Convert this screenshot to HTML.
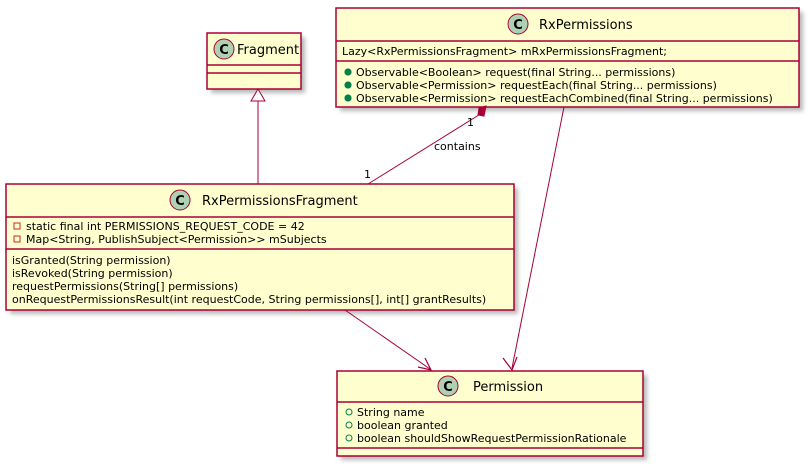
<!DOCTYPE html>
<html><head><meta charset="utf-8"><style>
html,body{margin:0;padding:0;background:#fff;}
svg{display:block;}
text{font-family:"DejaVu Sans","Liberation Sans",sans-serif;fill:#000;}
.m{font-size:11px;}
.t{font-size:13px;}
</style></head><body>
<svg width="808" height="466" viewBox="0 0 808 466" xmlns="http://www.w3.org/2000/svg">
<defs>
<filter id="sh" x="-5%" y="-5%" width="115%" height="125%"><feGaussianBlur stdDeviation="2"/></filter>
</defs>
<!-- shadows -->
<g fill="#888" opacity="0.6" filter="url(#sh)">
<rect x="211" y="37" width="94" height="56"/>
<rect x="340" y="12" width="463" height="99"/>
<rect x="10" y="188" width="508" height="126"/>
<rect x="341" y="375" width="306" height="85"/>
</g>
<g fill="#FEFECE" stroke="#A80036" stroke-width="1.5">
<rect x="207" y="33" width="94" height="56"/>
<rect x="336" y="8" width="463" height="99"/>
<rect x="6" y="184" width="508" height="126"/>
<rect x="337" y="371" width="306" height="85"/>
</g>
<g stroke="#A80036" stroke-width="1.5">
<line x1="207" y1="65" x2="301" y2="65"/><line x1="207" y1="73" x2="301" y2="73"/>
<line x1="336" y1="41" x2="799" y2="41"/><line x1="336" y1="61" x2="799" y2="61"/>
<line x1="6" y1="217" x2="514" y2="217"/><line x1="6" y1="249" x2="514" y2="249"/>
<line x1="337" y1="402" x2="643" y2="402"/><line x1="337" y1="448" x2="643" y2="448"/>
</g>
<!-- C icons -->
<g fill="#ADD1B2" stroke="#A80036" stroke-width="1">
<circle cx="224" cy="49" r="10"/>
<circle cx="518" cy="24" r="10"/>
<circle cx="180" cy="200" r="10"/>
<circle cx="448" cy="386" r="10"/>
</g>
<g font-weight="bold" font-size="13" text-anchor="middle">
<text x="224" y="54">C</text><text x="518" y="29">C</text><text x="180" y="205">C</text><text x="448" y="391">C</text>
</g>
<text class="t" x="237" y="54">Fragment</text>
<text class="t" x="539" y="29">RxPermissions</text>
<text class="t" x="202" y="205">RxPermissionsFragment</text>
<text class="t" x="473" y="391">Permission</text>
<text class="m" x="342" y="55">Lazy&lt;RxPermissionsFragment&gt; mRxPermissionsFragment;</text>
<g fill="none" stroke="#038048" stroke-width="1">
<circle cx="348" cy="72" r="3"/><circle cx="348" cy="85" r="3"/><circle cx="348" cy="98" r="3"/>
<circle cx="349" cy="412" r="3"/><circle cx="349" cy="425" r="3"/><circle cx="349" cy="438" r="3"/>
</g>
<g fill="#038048" stroke="#038048"><circle cx="348" cy="72" r="3"/><circle cx="348" cy="85" r="3"/><circle cx="348" cy="98" r="3"/></g>
<text class="m" x="356" y="76">Observable&lt;Boolean&gt; request(final String... permissions)</text>
<text class="m" x="356" y="89">Observable&lt;Permission&gt; requestEach(final String... permissions)</text>
<text class="m" x="356" y="102">Observable&lt;Permission&gt; requestEachCombined(final String... permissions)</text>
<g fill="none" stroke="#C82930" stroke-width="1">
<rect x="14" y="223" width="6" height="6"/><rect x="14" y="236" width="6" height="6"/>
</g>
<text class="m" x="26" y="230">static final int PERMISSIONS_REQUEST_CODE = 42</text>
<text class="m" x="26" y="243">Map&lt;String, PublishSubject&lt;Permission&gt;&gt; mSubjects</text>
<text class="m" x="12" y="264">isGranted(String permission)</text>
<text class="m" x="12" y="277">isRevoked(String permission)</text>
<text class="m" x="12" y="290">requestPermissions(String[] permissions)</text>
<text class="m" x="12" y="303">onRequestPermissionsResult(int requestCode, String permissions[], int[] grantResults)</text>
<text class="m" x="357" y="416">String name</text>
<text class="m" x="357" y="429">boolean granted</text>
<text class="m" x="357" y="442">boolean shouldShowRequestPermissionRationale</text>
<!-- connectors -->
<g stroke="#A80036" stroke-width="1" fill="none">
<line x1="258" y1="101" x2="258" y2="184"/>
<polygon points="258,89 251,101 265,101" fill="#fff"/>
<line x1="482" y1="113" x2="368" y2="184"/>
<line x1="564" y1="107" x2="512" y2="368"/>
<line x1="345" y1="310" x2="430" y2="369"/>
</g>
<polygon points="486,106 479,108 478,115 484,116" fill="#A80036" stroke="#A80036"/>
<polyline points="503,358 512,370 517,357" fill="none" stroke="#A80036" stroke-width="1.2"/>
<polyline points="418,367 431,370 425,358" fill="none" stroke="#A80036" stroke-width="1.2"/>
<text class="m" x="467" y="126">1</text>
<text class="m" x="364" y="178">1</text>
<text class="m" x="434" y="150">contains</text>
</svg>
</body></html>
